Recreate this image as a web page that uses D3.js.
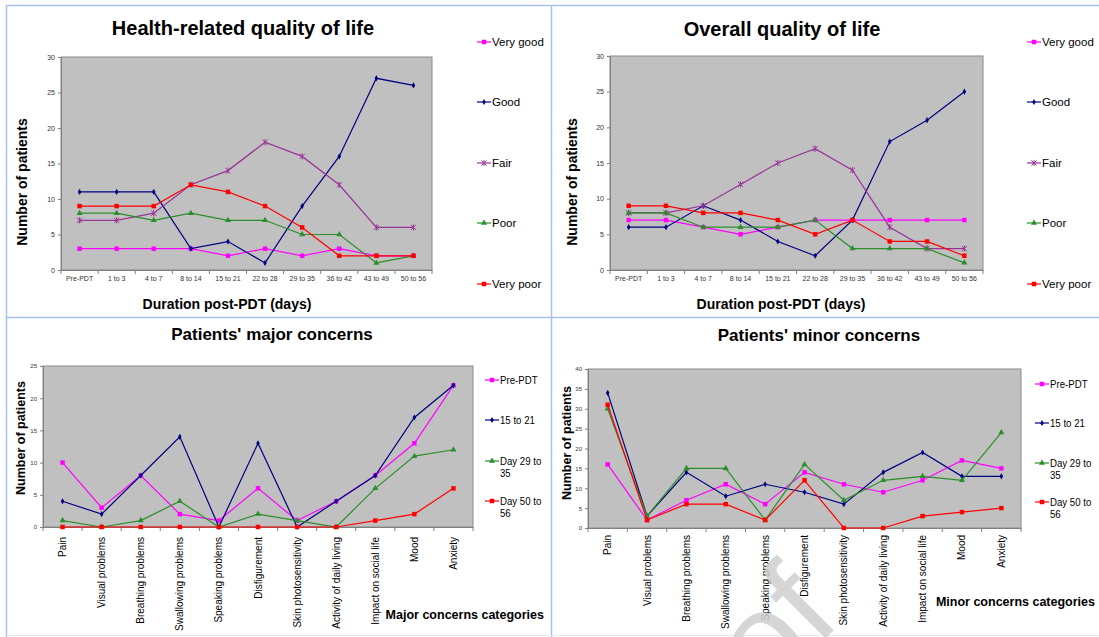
<!DOCTYPE html>
<html>
<head>
<meta charset="utf-8">
<script src="https://cdn.jsdelivr.net/npm/d3@7"></script>
<style>
  body { margin: 0; background: #fff; }
  svg { display: block; font-family: "Liberation Sans", Arial, sans-serif; }
</style>
</head>
<body>
<svg id="chart" width="1099" height="637"></svg>
<script>
// ---- data ----
var periods = ["Pre-PDT", "1 to 3", "4 to 7", "8 to 14", "15 to 21", "22 to 28", "29 to 35", "36 to 42", "43 to 49", "50 to 56"];
var ratings = ["Very good", "Good", "Fair", "Poor", "Very poor"];

// health-related quality of life
var hrVeryGood = [3, 3, 3, 3, 2, 3, 2, 3, 2, 2];
var hrGood     = [11, 11, 11, 3, 4, 1, 9, 16, 27, 26];
var hrFair     = [7, 7, 8, 12, 14, 18, 16, 12, 6, 6];
var hrPoor     = [8, 8, 7, 8, 7, 7, 5, 5, 1, 2];
var hrVeryPoor = [9, 9, 9, 12, 11, 9, 6, 2, 2, 2];

// overall quality of life
var ovVeryGood = [7, 7, 6, 5, 6, 7, 7, 7, 7, 7];
var ovGood     = [6, 6, 9, 7, 4, 2, 7, 18, 21, 25];
var ovFair     = [8, 8, 9, 12, 15, 17, 14, 6, 3, 3];
var ovPoor     = [8, 8, 6, 6, 6, 7, 3, 3, 3, 1];
var ovVeryPoor = [9, 9, 8, 8, 7, 5, 7, 4, 4, 2];

var concerns = ["Pain", "Visual problems", "Breathing problems", "Swallowing problems", "Speaking problems",
  "Disfigurement", "Skin photosensitivity", "Activity of daily living", "Impact on social life", "Mood", "Anxiety"];
var timepoints = ["Pre-PDT", "15 to 21", "Day 29 to 35", "Day 50 to 56"];

// major concerns
var majPre   = [10, 3, 8, 2, 1, 6, 1, 4, 8, 13, 22];
var maj15    = [4, 2, 8, 14, 0, 13, 0, 4, 8, 17, 22];
var maj29    = [1, 0, 1, 4, 0, 2, 1, 0, 6, 11, 12];
var maj50    = [0, 0, 0, 0, 0, 0, 0, 0, 1, 2, 6];

// minor concerns
var minPre   = [16, 2, 7, 11, 6, 14, 11, 9, 12, 17, 15];
var min15    = [34, 3, 14, 8, 11, 9, 6, 14, 19, 13, 13];
var min29    = [30, 3, 15, 15, 2, 16, 7, 12, 13, 12, 24];
var min50    = [31, 2, 6, 6, 2, 12, 0, 0, 3, 4, 5];

// ---- styling ----
var ratingColor = ["#ff00ff", "#000080", "#993399", "#2a8f2a", "#ff0000"],
    ratingMark = ["square", "diamond", "star", "triangle", "square"],
    timeColor = ["#ff00ff", "#000080", "#2a8f2a", "#ff0000"],
    timeMark = ["square", "diamond", "triangle", "square"];

var svg = d3.select("#chart");

// frame lines of the page
var frame = "#a9c1ea";
svg.append("line").attr("x1", 6).attr("x2", 1099).attr("y1", 5.5).attr("y2", 5.5).attr("stroke", frame).attr("stroke-width", 1.5);
svg.append("line").attr("x1", 6.5).attr("x2", 6.5).attr("y1", 5).attr("y2", 637).attr("stroke", frame).attr("stroke-width", 1.5);
svg.append("line").attr("x1", 6).attr("x2", 1099).attr("y1", 317.5).attr("y2", 317.5).attr("stroke", frame).attr("stroke-width", 1.5);
svg.append("line").attr("x1", 551.5).attr("x2", 551.5).attr("y1", 5).attr("y2", 637).attr("stroke", frame).attr("stroke-width", 1.5);
svg.append("line").attr("x1", 6).attr("x2", 1099).attr("y1", 635.5).attr("y2", 635.5).attr("stroke", "#e6e6e6");

function marker(sel, type, color) {
  if (type == "star") {
    sel.append("path").attr("d", "M-2.6,-2.6L2.6,2.6M-2.6,2.6L2.6,-2.6M0,-3.1L0,3.1")
      .attr("stroke", color).attr("stroke-width", 1).attr("fill", "none");
  } else {
    var sym = {square: d3.symbolSquare, diamond: d3.symbolDiamond, triangle: d3.symbolTriangle}[type];
    var size = {square: 20, diamond: 11, triangle: 16}[type];
    sel.append("path").attr("d", d3.symbol(sym, size)()).attr("fill", color);
  }
}

function panel(o) {
  var g = svg.append("g");
  var x = d3.scaleBand().domain(o.cats).range([o.left, o.right]);
  var y = d3.scaleLinear().domain([0, o.ymax]).range([o.bottom, o.top]);

  g.append("rect")
    .attr("x", o.left).attr("y", o.top)
    .attr("width", o.right - o.left).attr("height", o.bottom - o.top)
    .attr("fill", "#c0c0c0").attr("stroke", "#8a8a8a");

  // y axis
  var ya = g.append("g")
    .attr("transform", "translate(" + o.left + ",0)")
    .call(d3.axisLeft(y).tickValues(d3.range(0, o.ymax + 1, 5)).tickSize(3).tickPadding(3));
  ya.attr("font-family", null).attr("font-size", o.yFont);
  ya.select(".domain").attr("stroke", "#808080");
  ya.selectAll("line").attr("stroke", "#808080");
  ya.selectAll("text").attr("fill", "#333");

  // x axis: labels centred in bands, tick marks on band edges
  var xa = g.append("g")
    .attr("transform", "translate(0," + o.bottom + ")")
    .call(d3.axisBottom(x).tickSize(0).tickPadding(o.xPad));
  xa.attr("font-family", null).attr("font-size", o.xFont);
  xa.select(".domain").attr("stroke", "#808080");
  xa.selectAll("text").attr("fill", o.rotate ? "#000" : "#333");
  if (o.rotate) {
    xa.selectAll("text")
      .attr("transform", "rotate(-90)")
      .attr("text-anchor", "end")
      .attr("x", -o.xPad).attr("y", 0).attr("dy", "0.35em");
  }
  g.selectAll(".sep").data(d3.range(o.cats.length + 1)).join("line")
    .attr("x1", function(i) { return o.left + i * x.step(); })
    .attr("x2", function(i) { return o.left + i * x.step(); })
    .attr("y1", o.bottom).attr("y2", o.bottom + 4)
    .attr("stroke", "#808080");

  var line = d3.line()
    .x(function(d, i) { return x(o.cats[i]) + x.bandwidth() / 2; })
    .y(function(d) { return y(d); });

  o.series.forEach(function(s, k) {
    g.append("path").datum(s)
      .attr("d", line)
      .attr("fill", "none")
      .attr("stroke", o.colors[k])
      .attr("stroke-width", 1.2);
    s.forEach(function(v, i) {
      var m = g.append("g").attr("transform", "translate(" + (x(o.cats[i]) + x.bandwidth() / 2) + "," + y(v) + ")");
      marker(m, o.marks[k], o.colors[k]);
    });
  });

  // legend (text squeezed a little sideways like the original)
  o.names.forEach(function(n, k) {
    var ly = o.legY[k];
    var lg = svg.append("g").attr("transform", "translate(" + o.legX + "," + ly + ")");
    lg.append("line").attr("x1", -7).attr("x2", 7).attr("stroke", o.colors[k]).attr("stroke-width", 1.2);
    marker(lg, o.marks[k], o.colors[k]);
    var tg = lg.append("g").attr("transform", "translate(8,0) scale(" + o.legScale + ",1)");
    var t = tg.append("text").attr("dy", "0.35em").attr("font-size", o.legFont).text(n);
    if (t.node().getComputedTextLength() * o.legScale > o.legW) {
      var words = n.split(" "), last = words.pop();
      t.text(words.join(" "));
      tg.append("text").attr("y", o.legFont * 1.0).attr("dy", "0.35em").attr("font-size", o.legFont).text(last);
    }
  });

  // titles
  svg.append("text").attr("x", o.titleX).attr("y", o.titleY).attr("text-anchor", "middle")
    .attr("font-weight", "bold").attr("font-size", o.titleFont).text(o.title);
  svg.append("text")
    .attr("transform", "translate(" + o.yTitleX + "," + o.yTitleY + ") rotate(-90)")
    .attr("text-anchor", "middle").attr("font-weight", "bold").attr("font-size", o.yTitleFont)
    .text("Number of patients");
  svg.append("text").attr("x", o.xTitleX).attr("y", o.xTitleY).attr("text-anchor", o.xTitleAnchor)
    .attr("font-weight", "bold").attr("font-size", o.xTitleFont).text(o.xTitle);
}

panel({
  cats: periods, series: [hrVeryGood, hrGood, hrFair, hrPoor, hrVeryPoor], names: ratings,
  colors: ratingColor, marks: ratingMark,
  left: 61, right: 432, top: 57, bottom: 270, ymax: 30,
  yFont: 7, xFont: 7, xPad: 6, rotate: false,
  legX: 484, legY: [42, 102, 163, 223, 284], legFont: 11.5, legScale: 1, legW: 80,
  title: "Health-related quality of life", titleX: 243, titleY: 35, titleFont: 20,
  yTitleX: 27, yTitleY: 182, yTitleFont: 14,
  xTitle: "Duration post-PDT (days)", xTitleX: 227, xTitleY: 309, xTitleFont: 14, xTitleAnchor: "middle"
});

panel({
  cats: periods, series: [ovVeryGood, ovGood, ovFair, ovPoor, ovVeryPoor], names: ratings,
  colors: ratingColor, marks: ratingMark,
  left: 610, right: 983, top: 56, bottom: 270, ymax: 30,
  yFont: 7, xFont: 7, xPad: 6, rotate: false,
  legX: 1034, legY: [42, 102, 163, 223, 284], legFont: 11.5, legScale: 1, legW: 80,
  title: "Overall quality of life", titleX: 782, titleY: 36, titleFont: 20,
  yTitleX: 577, yTitleY: 182, yTitleFont: 14,
  xTitle: "Duration post-PDT (days)", xTitleX: 781, xTitleY: 309, xTitleFont: 14, xTitleAnchor: "middle"
});

panel({
  cats: concerns, series: [majPre, maj15, maj29, maj50], names: timepoints,
  colors: timeColor, marks: timeMark,
  left: 43, right: 473, top: 366, bottom: 527, ymax: 25,
  yFont: 6, xFont: 10, xPad: 10, rotate: true,
  legX: 492, legY: [380, 420, 461, 501], legFont: 11.5, legScale: 0.84, legW: 44,
  title: "Patients' major concerns", titleX: 272, titleY: 340, titleFont: 17,
  yTitleX: 25, yTitleY: 438, yTitleFont: 12.5,
  xTitle: "Major concerns categories", xTitleX: 544, xTitleY: 619, xTitleFont: 12.5, xTitleAnchor: "end"
});

panel({
  cats: concerns, series: [minPre, min15, min29, min50], names: timepoints,
  colors: timeColor, marks: timeMark,
  left: 588, right: 1021, top: 369, bottom: 528, ymax: 40,
  yFont: 6, xFont: 10, xPad: 7, rotate: true,
  legX: 1042, legY: [384, 423, 463, 502], legFont: 11.5, legScale: 0.84, legW: 44,
  title: "Patients' minor concerns", titleX: 819, titleY: 341, titleFont: 17,
  yTitleX: 571, yTitleY: 443, yTitleFont: 12.5,
  xTitle: "Minor concerns categories", xTitleX: 1095, xTitleY: 606, xTitleFont: 12.5, xTitleAnchor: "end"
});

// proof watermark, mostly below the page edge
svg.append("text")
  .attr("transform", "translate(843,621) rotate(-45)")
  .attr("text-anchor", "end")
  .attr("font-size", 130)
  .attr("fill", "#cfcfcf").attr("fill-opacity", 0.85)
  .text("Proof");
</script>
</body>
</html>
